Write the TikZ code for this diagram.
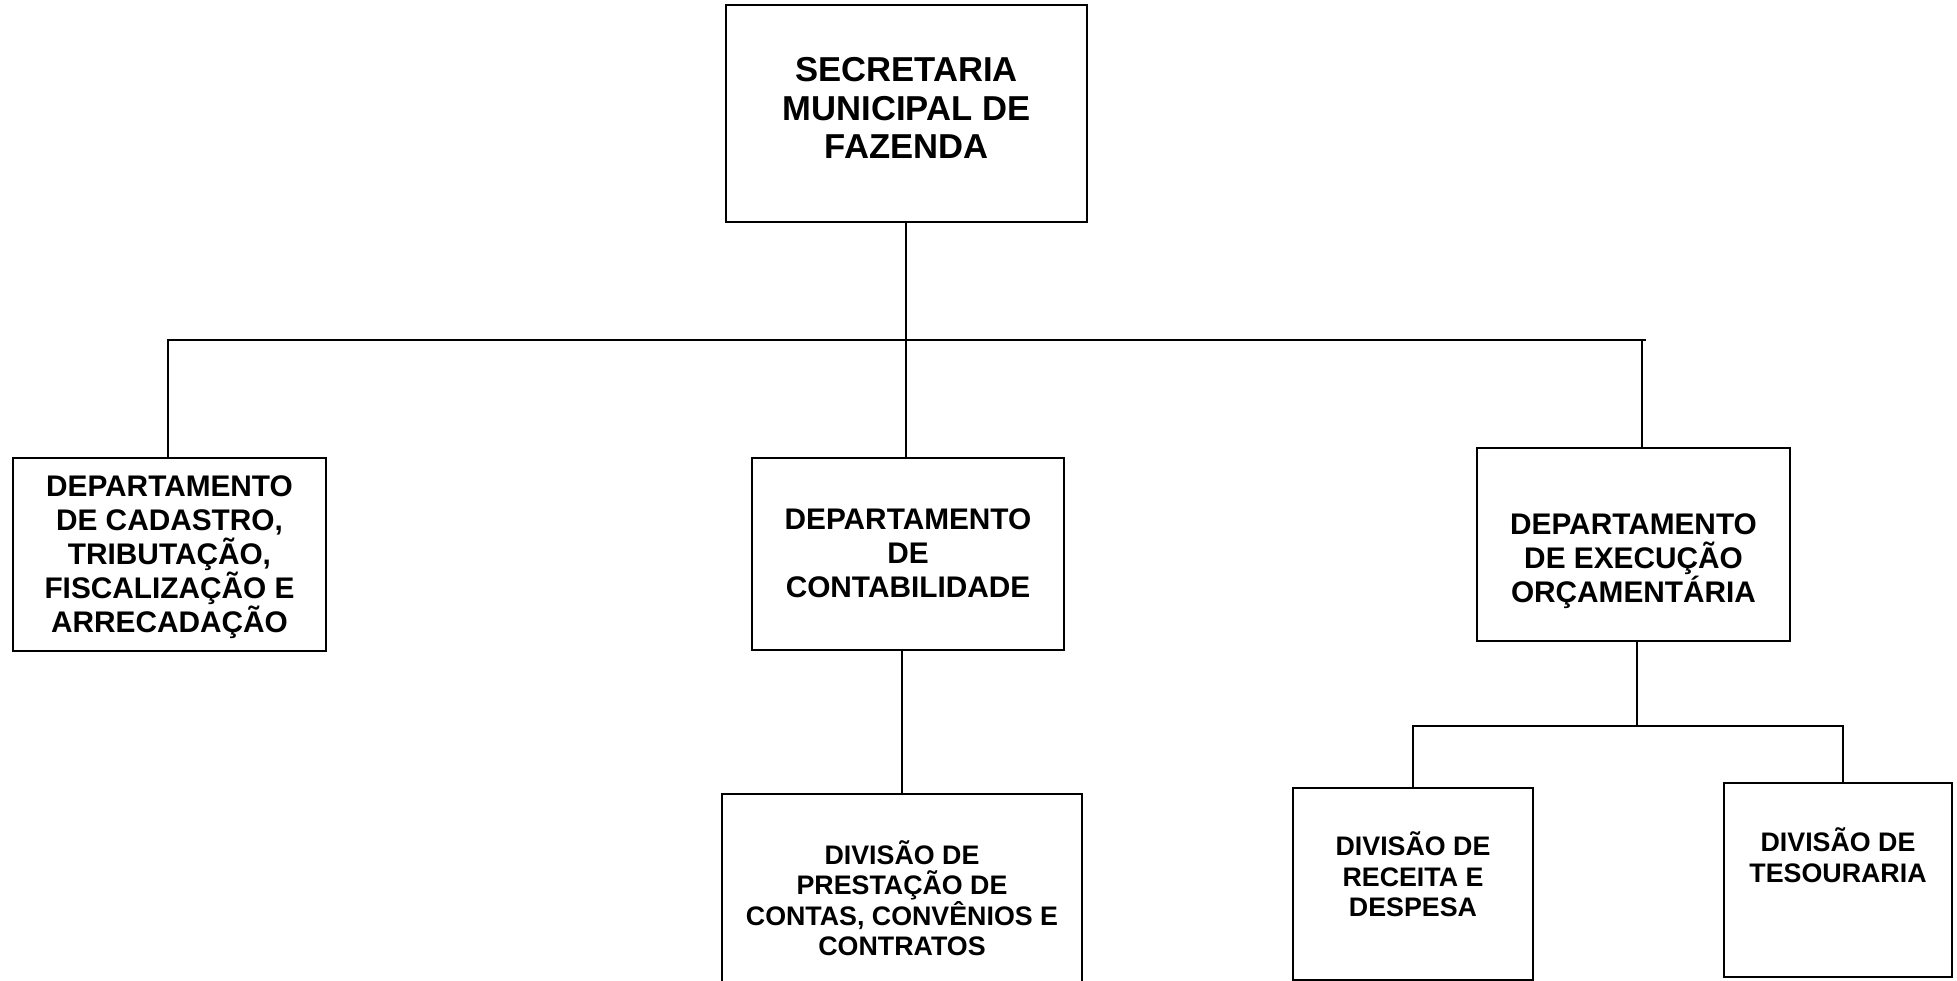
\documentclass[tikz,border=0pt]{standalone}
\usepackage{fontspec}
\setmainfont{Liberation Sans}
\usetikzlibrary{calc}
\tikzset{
	caixa/.style={draw, line width=1.8pt, inner sep=0pt},
	rotulo/.style={align=center, inner sep=0pt},
	linha/.style={line width=2pt}
}
\newcommand{\fsec}{\fontsize{34.6}{38.5}\selectfont\bfseries}
\newcommand{\fdep}{\fontsize{29.8}{34}\selectfont\bfseries}
\newcommand{\fdiv}{\fontsize{26.8}{30.5}\selectfont\bfseries}

\begin{document}
\begin{tikzpicture}[x=1pt, y=-1pt]
				\useasboundingbox (0,0) rectangle (1957,981);
				
				\node[caixa, minimum width=361pt, minimum height=217pt] (sec) at (906.5, 113.5) {};
				\node[rotulo, font=\fsec] (sec-t) at ([yshift=5.5pt]sec.center) {SECRETARIA\\MUNICIPAL DE\\FAZENDA};
				
				\node[caixa, minimum width=313pt, minimum height=193pt] (dcad) at (169.5, 554.5) {};
				\node[rotulo, font=\fdep] (dcad-t) at ([yshift=-3pt]dcad.center) {DEPARTAMENTO\\DE CADASTRO,\\TRIBUTAÇÃO,\\FISCALIZAÇÃO E\\ARRECADAÇÃO};
				
				\node[caixa, minimum width=312pt, minimum height=192pt] (dcon) at (908, 554) {};
				\node[rotulo, font=\fdep] (dcon-t) at ([yshift=1pt]dcon.center) {DEPARTAMENTO\\DE\\CONTABILIDADE};
				
				\node[caixa, minimum width=313pt, minimum height=193pt] (dexe) at (1633.5, 544.5) {};
				\node[rotulo, font=\fdep] (dexe-t) at ([yshift=-17pt]dexe.center) {DEPARTAMENTO\\DE EXECUÇÃO\\ORÇAMENTÁRIA};
				
				\node[caixa, minimum width=360pt, minimum height=206pt] (dpre) at (902, 897) {};
				\node[rotulo, font=\fdiv] (dpre-t) at ([yshift=-1pt]dpre.center) {DIVISÃO DE\\PRESTAÇÃO DE\\CONTAS, CONVÊNIOS E\\CONTRATOS};
				
				\node[caixa, minimum width=240pt, minimum height=192pt] (drec) at (1413, 884) {};
				\node[rotulo, font=\fdiv] (drec-t) at ([yshift=9.5pt]drec.center) {DIVISÃO DE\\RECEITA E\\DESPESA};
				
				\node[caixa, minimum width=228pt, minimum height=194pt] (dtes) at (1838, 880) {};
				\node[rotulo, font=\fdiv] (dtes-t) at ([yshift=25pt]dtes.center) {DIVISÃO DE\\TESOURARIA};
				
				% ligacoes
				\coordinate (fim) at (1646, 340);
				\draw[linha] ([xshift=-0.5pt]sec.south) -- ([xshift=-0.5pt]sec.south |- dcon.north);
				\draw[linha] ([xshift=-1.5pt]dcad.north) |- (fim);
				\draw[linha] ([xshift=8.5pt]dexe.north) -- ([xshift=8.5pt]dexe.north |- fim);
				
				\draw[linha] (dpre.north) -- (dpre.north |- dcon.south);
				
				\coordinate (barra2) at (1637, 726);
				\draw[linha] ([xshift=3.5pt]dexe.south) -- (barra2);
				\draw[linha] (drec.north) |- (barra2) -| ([xshift=5pt]dtes.north);
			\end{tikzpicture}
\end{document}
